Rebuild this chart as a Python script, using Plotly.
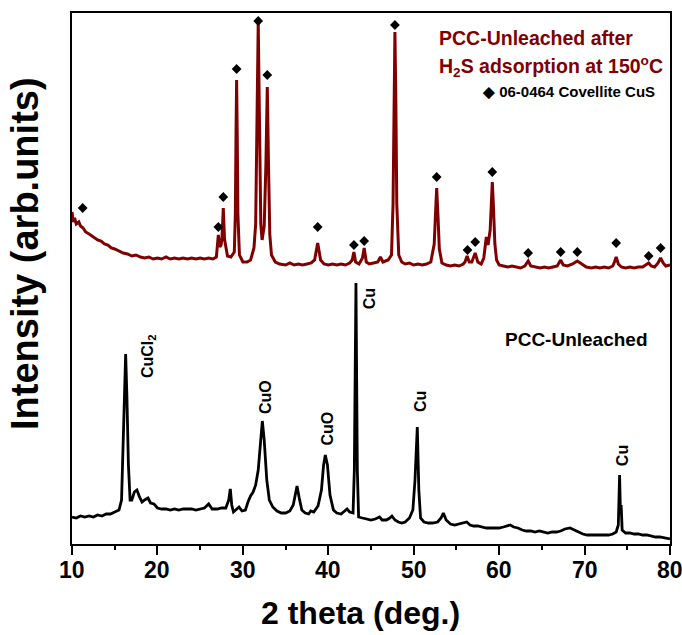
import plotly.graph_objects as go

# ---- Data (2theta in degrees, intensity in arbitrary units) ----
red_theta = [10.0, 10.15, 10.3, 10.5, 10.8, 11.0, 11.3, 11.6, 12.0, 12.3, 12.7, 13.0, 13.4, 13.8, 14.2, 14.6,
             15.0, 15.5, 16.0, 16.5, 17.0, 17.5, 18.0, 18.5, 19.0, 19.5, 20.0, 20.5, 21.0, 21.5, 22.0, 22.5,
             23.0, 23.5, 24.0, 24.5, 25.0, 25.5, 26.0, 26.5, 26.9, 27.13, 27.3, 27.45, 27.55, 27.71, 27.85,
             28.2, 28.6, 29.0, 29.12, 29.2, 29.27, 29.34, 29.42, 29.6, 30.0, 30.5, 30.9, 31.3, 31.5, 31.65,
             31.8, 31.95, 32.1, 32.25, 32.5, 32.7, 32.86, 33.0, 33.15, 33.35, 33.8, 34.3, 35.0, 35.5, 36.0,
             36.5, 37.0, 37.5, 38.0, 38.4, 38.76, 39.1, 39.5, 40.0, 40.5, 41.0, 41.5, 42.0, 42.5, 42.8, 43.0,
             43.2, 43.6, 44.0, 44.2, 44.45, 44.8, 45.3, 45.8, 46.1, 46.4, 47.0, 47.4, 47.58, 47.7, 47.8, 47.9,
             48.02, 48.25, 48.6, 49.0, 49.5, 50.0, 50.5, 51.0, 51.5, 52.0, 52.4, 52.55, 52.69, 52.83, 53.0,
             53.3, 53.8, 54.3, 54.8, 55.3, 55.8, 56.0, 56.25, 56.5, 56.8, 57.2, 57.5, 57.9, 58.2, 58.5, 58.7,
             58.95, 59.08, 59.2, 59.32, 59.5, 59.7, 60.0, 60.5, 61.0, 61.5, 62.0, 62.5, 63.0, 63.4, 63.7,
             64.2, 64.8, 65.3, 65.8, 66.3, 66.8, 67.2, 67.5, 68.0, 68.6, 69.15, 69.7, 70.2, 70.8, 71.3, 71.8,
             72.3, 72.8, 73.3, 73.5, 73.7, 73.95, 74.3, 74.8, 75.3, 75.8, 76.3, 76.8, 77.2, 77.5, 77.8, 78.2,
             78.6, 78.9, 79.2, 79.5, 80.0]
red_int = [332, 322, 326, 320, 322, 318, 316, 312, 310, 308, 306, 304, 303, 300, 299, 296,
           295, 293, 291, 290, 288, 289, 287, 286, 287, 285, 286, 285, 287, 285, 286, 285,
           286, 285, 286, 285, 286, 285, 286, 285, 287, 309, 297, 299, 305, 336, 305,
           288, 287, 292, 330, 410, 464, 410, 330, 289, 282, 282, 284, 296, 320, 420,
           521, 420, 320, 304, 318, 380, 457, 380, 310, 289, 282, 280, 279, 281, 279,
           280, 279, 280, 281, 284, 301, 284, 280, 279, 280, 279, 280, 279, 281, 284, 292,
           282, 280, 286, 296, 282, 280, 281, 282, 287, 282, 284, 289, 340, 450, 512, 450,
           340, 289, 282, 280, 281, 279, 280, 279, 280, 282, 300, 330, 356, 330, 295,
           281, 279, 278, 279, 278, 280, 282, 288, 282, 282, 291, 282, 280, 286, 307, 299,
           314, 340, 362, 340, 300, 284, 279, 278, 277, 278, 277, 276, 278, 283, 278,
           277, 276, 277, 276, 277, 278, 284, 279, 278, 280, 283, 280, 277, 276, 277, 276,
           277, 276, 278, 282, 287, 280, 277, 276, 277, 276, 277, 277, 279, 281, 278, 277,
           281, 286, 281, 278, 279]

black_theta = [10.0, 10.5, 11.0, 11.5, 12.0, 12.5, 13.0, 13.5, 14.0, 14.5, 15.0, 15.5, 15.8, 16.0, 16.15,
               16.28, 16.42, 16.6, 16.8, 17.0, 17.3, 17.6, 17.9, 18.2, 18.5, 18.9, 19.2, 19.6, 20.0, 20.5,
               21.0, 21.5, 22.0, 22.5, 23.0, 23.5, 24.0, 24.5, 25.0, 25.5, 26.0, 26.4, 27.0, 27.5, 28.0,
               28.35, 28.53, 28.7, 28.9, 29.2, 29.55, 29.9, 30.3, 30.6, 30.9, 31.2, 31.5, 31.8, 32.05,
               32.28, 32.5, 32.8, 33.1, 33.5, 34.0, 34.5, 35.0, 35.5, 35.9, 36.1, 36.34, 36.6, 36.9, 37.3,
               37.7, 37.95, 38.3, 38.8, 39.2, 39.45, 39.65, 39.9, 40.2, 40.6, 41.0, 41.5, 42.0, 42.2, 42.5,
               42.9, 43.05, 43.24, 43.4, 43.55, 44.0, 44.5, 45.0, 45.5, 46.0, 46.3, 46.8, 47.2, 47.45, 47.8,
               48.2, 48.6, 49.0, 49.5, 49.9, 50.15, 50.42, 50.6, 50.8, 51.2, 51.7, 52.2, 52.8, 53.2, 53.47,
               53.8, 54.3, 54.8, 55.3, 55.8, 56.2, 56.6, 57.0, 57.5, 58.0, 58.5, 59.0, 59.5, 60.0, 60.5,
               61.0, 61.3, 61.7, 62.2, 62.7, 63.2, 63.7, 64.2, 64.7, 65.2, 65.7, 66.2, 66.7, 67.2, 67.7,
               68.3, 68.8, 69.3, 69.8, 70.3, 70.8, 71.3, 71.8, 72.3, 72.8, 73.3, 73.7, 73.95, 74.1, 74.2,
               74.28, 74.4, 74.8, 75.3, 75.8, 76.3, 76.8, 77.3, 77.8, 78.3, 78.8, 79.3, 80.0]
black_int = [27, 26, 28, 27, 28, 27, 29, 28, 30, 30, 32, 34, 44, 104, 160,
             190, 150, 80, 44, 44, 52, 54, 47, 42, 44, 46, 41, 40, 36, 35,
             35, 34, 35, 34, 35, 35, 35, 34, 35, 36, 40, 35, 35, 36, 36,
             44, 55, 39, 32, 34, 37, 33, 34, 42, 48, 52, 59, 74, 104,
             123, 104, 64, 44, 37, 33, 31, 31, 33, 39, 49, 58, 46, 34, 31,
             30, 33, 32, 38, 54, 79, 89, 79, 49, 34, 31, 30, 34, 35, 32,
             31, 74, 261, 74, 27, 26, 25, 24, 25, 27, 24, 24, 26, 28, 24,
             22, 21, 22, 26, 34, 64, 117, 54, 26, 22, 21, 21, 22, 26, 31,
             24, 20, 19, 20, 21, 22, 19, 18, 18, 17, 16, 16, 16, 16, 17,
             18, 19, 17, 16, 14, 13, 13, 12, 13, 12, 11, 12, 12, 13, 15,
             16, 14, 12, 10, 9, 9, 9, 9, 9, 9, 10, 12, 19, 69, 30,
             39, 14, 11, 11, 10, 10, 9, 9, 8, 7, 7, 6, 5]

# Covellite CuS reference markers (06-0464)
cus_theta = [11.25, 27.13, 27.71, 29.27, 31.8, 32.86, 38.76, 43.0, 44.2, 47.8, 52.69, 56.3, 57.2, 59.2,
             63.4, 67.2, 69.15, 73.7, 77.5, 78.9]
cus_int = [336, 317, 347, 475, 523, 469, 317, 299, 303, 519, 367, 294, 302, 372,
           291, 292, 292, 301, 288, 296]

# Phase labels on the lower pattern
phase_labels = ["CuCl<sub>2</sub>", "CuO", "CuO", "Cu", "Cu", "Cu"]
phase_theta = [18.9, 32.6, 39.8, 44.8, 50.75, 74.4]
phase_int = [188, 147, 115, 245, 142, 88]

# x-axis tick values / labels
x_tickvals = [10, 20, 30, 40, 50, 60, 70, 80]
x_ticktext = ["10", "20", "30", "40", "50", "60", "70", "80"]

RED = "#800000"
FONT = "Liberation Sans, Arial, Helvetica, sans-serif"
NARROW = "Liberation Sans Narrow, Arial Narrow, Liberation Sans, Arial, sans-serif"

fig = go.Figure()
fig.add_trace(go.Scatter(x=black_theta, y=black_int, mode="lines",
                         line=dict(color="black", width=2.8), showlegend=False, hoverinfo="skip"))
fig.add_trace(go.Scatter(x=red_theta, y=red_int, mode="lines",
                         line=dict(color=RED, width=3), showlegend=False, hoverinfo="skip"))
fig.add_trace(go.Scatter(x=cus_theta, y=cus_int, mode="markers",
                         marker=dict(symbol="diamond", size=7.5, color="black"),
                         showlegend=False, hoverinfo="skip"))

annotations = []
for txt, tx, ty in zip(phase_labels, phase_theta, phase_int):
    annotations.append(dict(x=tx, y=ty, xref="x", yref="y", text="<b>" + txt + "</b>",
                            textangle=-90, showarrow=False,
                            font=dict(family=FONT, size=16, color="black"),
                            xanchor="center", yanchor="middle"))

# tick labels as annotations so the last label ("80") at the plot edge stays visible
for tv, tt in zip(x_tickvals, x_ticktext):
    annotations.append(dict(x=tv, y=(544 - 570) / 531, xref="x", yref="paper", text="<b>" + tt + "</b>",
                            showarrow=False, font=dict(family=NARROW, size=23, color="black"),
                            xanchor="center", yanchor="middle"))

annotations += [
    dict(x=69.1, y=205, xref="x", yref="y", text="<b>PCC-Unleached</b>", showarrow=False,
         font=dict(family=FONT, size=19, color="black"), xanchor="center", yanchor="middle"),
    dict(x=52.7, y=506, xref="x", yref="y", text="<b>PCC-Unleached after</b>", showarrow=False,
         font=dict(family=FONT, size=19.5, color=RED), xanchor="left", yanchor="middle"),
    dict(x=52.7, y=478, xref="x", yref="y",
         text="<b>H<sub>2</sub>S adsorption at 150<sup>o</sup>C</b>", showarrow=False,
         font=dict(family=FONT, size=19.5, color=RED), xanchor="left", yanchor="middle"),
    dict(x=78.5, y=453, xref="x", yref="y", text="<b>\u25c6 06-0464 Covellite CuS</b>", showarrow=False,
         font=dict(family=FONT, size=15, color="black"), xanchor="right", yanchor="middle"),
    dict(x=(360 - 72) / 598, y=(544 - 613) / 531, xref="paper", yref="paper",
         text="<b>2 theta (deg.)</b>", showarrow=False,
         font=dict(family=FONT, size=32, color="black"), xanchor="center", yanchor="middle"),
    dict(x=(25 - 72) / 598, y=(544 - 254) / 531, xref="paper", yref="paper",
         text="<b>Intensity (arb.units)</b>", showarrow=False, textangle=-90,
         font=dict(family=FONT, size=38, color="black"), xanchor="center", yanchor="middle"),
]

fig.update_layout(
    width=682, height=635,
    margin=dict(l=72, r=12, t=13, b=91, autoexpand=False),
    paper_bgcolor="white", plot_bgcolor="white",
    annotations=annotations,
    xaxis=dict(range=[10, 80], tickmode="array", tickvals=x_tickvals, showticklabels=False,
               automargin=False,
               ticks="outside", ticklen=9, tickwidth=1.5, tickcolor="black",
               showline=True, linecolor="black", linewidth=1.5, mirror=True,
               showgrid=False, zeroline=False,
               minor=dict(ticks="outside", ticklen=4, tickwidth=1.5, tickcolor="black",
                          dtick=5, tick0=10, showgrid=False)),
    yaxis=dict(range=[0, 531], showticklabels=False, ticks="", automargin=False,
               showline=True, linecolor="black", linewidth=1.5, mirror=True,
               showgrid=False, zeroline=False),
)

fig.write_html("out.html")
